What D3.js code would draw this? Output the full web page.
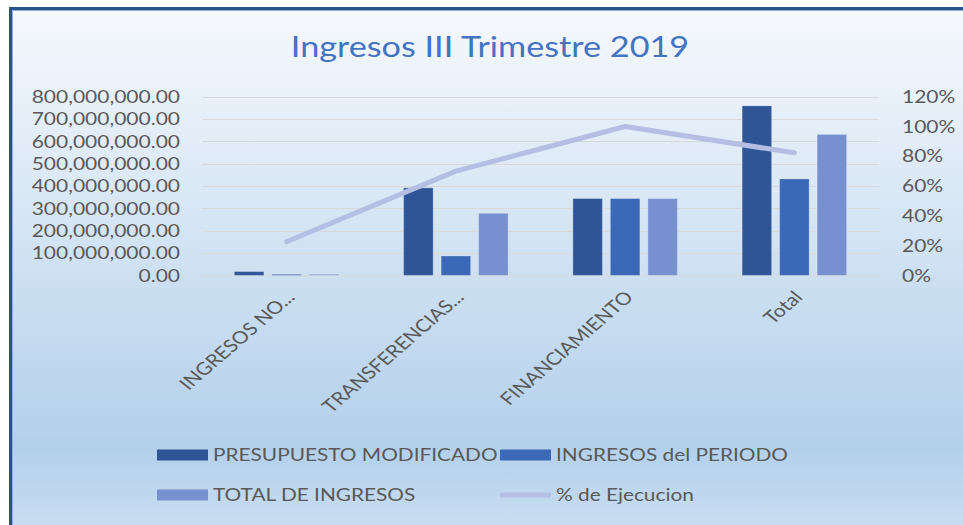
<!DOCTYPE html>
<html>
<head>
<meta charset="utf-8">
<script src="https://cdn.jsdelivr.net/npm/d3@7"></script>
<style>
  html, body { margin: 0; padding: 0; background: #ffffff; }
  svg { display: block; }
  text { font-family: Lato, "Open Sans", sans-serif; }
</style>
</head>
<body>
<svg id="chart" width="963" height="525"></svg>
<script>
// ---- data ----
const categories = ["INGRESOS NO...", "TRANSFERENCIAS...", "FINANCIAMIENTO", "Total"];
const seriesNames = ["PRESUPUESTO MODIFICADO", "INGRESOS del PERIODO", "TOTAL DE INGRESOS"];
const presupuestoModificado = [17000000, 392000000, 344000000, 759000000];
const ingresosPeriodo = [5000000, 87000000, 344000000, 432000000];
const totalIngresos = [5000000, 278000000, 344000000, 631000000];
const ejecucion = [0.226, 0.70, 1.00, 0.823];
const lineName = "% de Ejecucion";
const leftTicks = [0, 100000000, 200000000, 300000000, 400000000, 500000000, 600000000, 700000000, 800000000];
const rightTicks = [0, 0.2, 0.4, 0.6, 0.8, 1.0, 1.2];
const title = "Ingresos III Trimestre 2019";

const barColors = ["#2f5597", "#3c68b8", "#7790cf"];
const lineColor = "#b4bfe3";
const textColor = "#595959";
const SX = 1.2; // horizontal text stretch

const svg = d3.select("#chart");
const W = 963, H = 525;

// background gradient
const defs = svg.append("defs");
const grad = defs.append("linearGradient").attr("id", "bg")
  .attr("x1", 0).attr("y1", 0).attr("x2", 0).attr("y2", 1);
grad.append("stop").attr("offset", "0%").attr("stop-color", "#f6f9fd");
grad.append("stop").attr("offset", "85%").attr("stop-color", "#b3d0eb");
grad.append("stop").attr("offset", "100%").attr("stop-color", "#c8ddf1");

svg.append("rect").attr("x", 10).attr("y", 8).attr("width", W - 10).attr("height", H - 8)
  .attr("fill", "url(#bg)");
// border
svg.append("path").attr("d", `M10.5,${H} V8.5 H${W}`)
  .attr("fill", "none").attr("stroke", "#2b5287").attr("stroke-width", 3);
svg.append("path").attr("d", `M12.5,${H} V10.5 H${W}`)
  .attr("fill", "none").attr("stroke", "#8fb0d8").attr("stroke-width", 1);

// scales
const x = d3.scaleBand().domain(categories).range([202, 879]).paddingInner(0).paddingOuter(0);
const bw = x.bandwidth();
const xs = d3.scaleBand().domain(seriesNames).range([bw / 2 - 52.25, bw / 2 + 52.25]).paddingInner(0.213).paddingOuter(0);
const y = d3.scaleLinear().domain([0, 800000000]).range([275.4, 96.7]);
const y2 = d3.scaleLinear().domain([0, 1.2]).range([275.4, 96.7]);

// gridlines
svg.append("g").selectAll("line").data(leftTicks).join("line")
  .attr("x1", 202).attr("x2", 879)
  .attr("y1", d => Math.round(y(d)) + 0.5).attr("y2", d => Math.round(y(d)) + 0.5)
  .attr("stroke", "#d9d9d9").attr("stroke-width", 1);

// left axis labels
const fmtL = d3.format(",.2f");
svg.append("g").selectAll("text").data(leftTicks).join("text")
  .attr("transform", d => `translate(180,${y(d)}) scale(${SX},1)`)
  .attr("text-anchor", "end").attr("dy", "0.35em")
  .attr("font-size", 17.5).attr("fill", textColor)
  .text(d => fmtL(d));

// right axis labels
const fmtR = d3.format(".0%");
svg.append("g").selectAll("text").data(rightTicks).join("text")
  .attr("transform", d => `translate(902,${y2(d)}) scale(${SX},1)`)
  .attr("text-anchor", "start").attr("dy", "0.35em")
  .attr("font-size", 17.5).attr("fill", textColor)
  .text(d => fmtR(d));

// bars
const seriesValues = [presupuestoModificado, ingresosPeriodo, totalIngresos];
const barG = svg.append("g");
seriesValues.forEach((vals, si) => {
  barG.append("g").selectAll("rect").data(vals).join("rect")
    .attr("x", (d, i) => x(categories[i]) + xs(seriesNames[si]))
    .attr("width", xs.bandwidth())
    .attr("y", d => y(d))
    .attr("height", d => y(0) - y(d))
    .attr("fill", barColors[si])
    .attr("stroke", "rgba(255,255,255,0.25)").attr("stroke-width", 1);
});

// line
const line = d3.line()
  .x((d, i) => x(categories[i]) + bw / 2)
  .y(d => y2(d));
svg.append("path").datum(ejecucion).attr("d", line)
  .attr("fill", "none").attr("stroke", lineColor).attr("stroke-width", 5)
  .attr("stroke-linecap", "round").attr("stroke-linejoin", "round");

// category labels
svg.append("g").selectAll("text").data(categories).join("text")
  .attr("transform", d => `translate(${x(d) + bw / 2 + 4},${294}) scale(${SX},1) rotate(-46)`)
  .attr("text-anchor", "end").attr("dy", "0.35em")
  .attr("font-size", 17.5).attr("fill", textColor)
  .text(d => d);

// title
svg.append("text")
  .attr("transform", `translate(490,57) scale(${SX},1)`)
  .attr("text-anchor", "middle")
  .attr("font-size", 28.5).attr("fill", "#4472c4")
  .text(title);

// legend
const legendItems = [
  { name: seriesNames[0], type: "bar", color: barColors[0], x: 157, y: 455 },
  { name: seriesNames[1], type: "bar", color: barColors[1], x: 500, y: 455 },
  { name: seriesNames[2], type: "bar", color: barColors[2], x: 157, y: 495 },
  { name: lineName, type: "line", color: lineColor, x: 500, y: 495 }
];
const lg = svg.append("g");
legendItems.forEach(it => {
  if (it.type === "bar") {
    lg.append("rect").attr("x", it.x).attr("y", it.y - 5.5).attr("width", 51).attr("height", 11)
      .attr("fill", it.color);
  } else {
    lg.append("line").attr("x1", it.x).attr("x2", it.x + 51).attr("y1", it.y).attr("y2", it.y)
      .attr("stroke", it.color).attr("stroke-width", 5);
  }
  lg.append("text")
    .attr("transform", `translate(${it.x + 56},${it.y}) scale(1.19,1)`)
    .attr("dy", "0.35em").attr("font-size", 17.5).attr("fill", textColor)
    .text(it.name);
});
</script>
</body>
</html>
